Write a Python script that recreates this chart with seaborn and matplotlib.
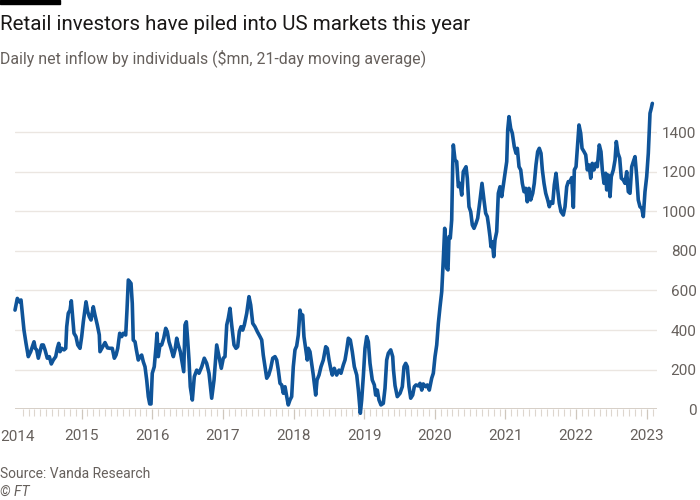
#%% IMPORTS
import numpy as np
import pandas as pd
import seaborn as sns
from matplotlib import pyplot as plt
from matplotlib.patches import Rectangle

#%% DATA (decimal year, $mn 21-day moving average)
year_pos = [
    2014.058, 2014.091, 2014.119, 2014.143, 2014.157, 2014.185, 2014.214, 2014.246, 2014.280, 2014.303,
    2014.327, 2014.345, 2014.365, 2014.388, 2014.412, 2014.436, 2014.459, 2014.483, 2014.515, 2014.544,
    2014.572, 2014.600, 2014.634, 2014.657, 2014.677, 2014.695, 2014.719, 2014.752, 2014.776, 2014.790,
    2014.812, 2014.837, 2014.855, 2014.875, 2014.893, 2014.921, 2014.946, 2014.978,
    2015.002, 2015.025, 2015.063, 2015.087, 2015.110, 2015.134, 2015.166, 2015.190, 2015.223, 2015.251,
    2015.261, 2015.299, 2015.332, 2015.367, 2015.403, 2015.435, 2015.464, 2015.488, 2015.512, 2015.540,
    2015.568, 2015.591, 2015.625, 2015.643, 2015.662, 2015.682, 2015.700, 2015.718, 2015.732, 2015.757,
    2015.776, 2015.803, 2015.827, 2015.851, 2015.874, 2015.898, 2015.922, 2015.945, 2015.965, 2015.983,
    2016.001, 2016.029, 2016.054, 2016.068, 2016.086, 2016.110, 2016.134, 2016.163, 2016.191, 2016.214,
    2016.238, 2016.266, 2016.299, 2016.323, 2016.347, 2016.369, 2016.398, 2016.418, 2016.446, 2016.464,
    2016.483, 2016.502, 2016.521, 2016.539, 2016.568, 2016.596, 2016.630, 2016.662, 2016.701, 2016.737,
    2016.771, 2016.804, 2016.842, 2016.875, 2016.913, 2016.946, 2016.978,
    2017.006, 2017.030, 2017.055, 2017.077, 2017.101, 2017.125, 2017.158, 2017.186, 2017.210, 2017.233,
    2017.257, 2017.281, 2017.304, 2017.338, 2017.370, 2017.394, 2017.423, 2017.455, 2017.488, 2017.526,
    2017.550, 2017.572, 2017.597, 2017.621, 2017.649, 2017.677, 2017.706, 2017.738, 2017.762, 2017.785,
    2017.809, 2017.833, 2017.856, 2017.880, 2017.904, 2017.926, 2017.950, 2017.974, 2017.997,
    2018.021, 2018.045, 2018.068, 2018.092, 2018.110, 2018.130, 2018.148, 2018.172, 2018.195, 2018.209,
    2018.233, 2018.257, 2018.280, 2018.314, 2018.333, 2018.361, 2018.389, 2018.422, 2018.456, 2018.478,
    2018.503, 2018.531, 2018.549, 2018.577, 2018.611, 2018.644, 2018.672, 2018.705, 2018.729, 2018.753,
    2018.776, 2018.804, 2018.832, 2018.861, 2018.895, 2018.918, 2018.946, 2018.965, 2018.988,
    2019.012, 2019.036, 2019.059, 2019.083, 2019.115, 2019.144, 2019.163, 2019.186, 2019.210, 2019.238,
    2019.271, 2019.295, 2019.319, 2019.342, 2019.376, 2019.404, 2019.415, 2019.437, 2019.469, 2019.508,
    2019.540, 2019.564, 2019.588, 2019.611, 2019.635, 2019.659, 2019.687, 2019.710, 2019.734, 2019.767,
    2019.791, 2019.815, 2019.837, 2019.871, 2019.894, 2019.922, 2019.956, 2019.979,
    2020.003, 2020.027, 2020.050, 2020.074, 2020.098, 2020.120, 2020.140, 2020.154, 2020.168, 2020.187,
    2020.201, 2020.219, 2020.239, 2020.253, 2020.262, 2020.286, 2020.310, 2020.333, 2020.357, 2020.381,
    2020.403, 2020.442, 2020.460, 2020.484, 2020.508, 2020.531, 2020.555, 2020.583, 2020.607, 2020.640,
    2020.668, 2020.696, 2020.720, 2020.743, 2020.760, 2020.781, 2020.795, 2020.814, 2020.834, 2020.852,
    2020.876, 2020.899, 2020.923, 2020.947, 2020.970, 2020.994,
    2021.018, 2021.032, 2021.050, 2021.074, 2021.097, 2021.125, 2021.149, 2021.168, 2021.192, 2021.216,
    2021.239, 2021.263, 2021.287, 2021.309, 2021.333, 2021.357, 2021.386, 2021.408, 2021.432, 2021.456,
    2021.479, 2021.503, 2021.522, 2021.546, 2021.570, 2021.598, 2021.621, 2021.645, 2021.669, 2021.691,
    2021.716, 2021.740, 2021.762, 2021.786, 2021.819, 2021.843, 2021.867, 2021.890, 2021.914, 2021.938,
    2021.961, 2021.975, 2021.999,
    2022.023, 2022.041, 2022.065, 2022.084, 2022.112, 2022.136, 2022.159, 2022.183, 2022.207, 2022.229,
    2022.253, 2022.278, 2022.300, 2022.328, 2022.352, 2022.371, 2022.395, 2022.419, 2022.433, 2022.456,
    2022.480, 2022.498, 2022.527, 2022.551, 2022.569, 2022.593, 2022.617, 2022.640, 2022.668, 2022.692,
    2022.716, 2022.739, 2022.763, 2022.787, 2022.810, 2022.834, 2022.858, 2022.880, 2022.904, 2022.929,
    2022.951, 2022.975, 2022.999,
    2023.022, 2023.046, 2023.064, 2023.079,
]
net_inflow = [
    501, 560, 543, 552, 501, 400, 333, 266, 291, 316,
    341, 308, 300, 258, 291, 325, 325, 300, 258, 266,
    229, 249, 266, 308, 333, 291, 308, 300, 308, 417,
    485, 501, 548, 460, 384, 367, 325, 308,
    367, 442, 543, 493, 468, 451, 518, 476, 426, 376,
    291, 316, 337, 310, 308, 308, 258, 274, 308, 384,
    367, 384, 375, 501, 653, 644, 636, 535, 350, 341,
    300, 249, 266, 274, 240, 215, 148, 64, 27, 27,
    182, 215, 316, 384, 266, 325, 325, 359, 409, 392,
    341, 308, 266, 300, 359, 325, 291, 249, 190, 426,
    442, 350, 249, 114, 47, 165, 198, 182, 215, 258,
    232, 182, 56, 148, 325, 266, 207,
    258, 266, 426, 460, 510, 426, 325, 308, 316, 392,
    417, 400, 426, 485, 569, 527, 434, 417, 392, 367,
    350, 274, 215, 157, 173, 207, 258, 266, 249, 198,
    131, 123, 81, 114, 64, 22, 47, 64, 215,
    300, 320, 375, 501, 468, 476, 367, 308, 249, 308,
    291, 232, 173, 72, 148, 173, 215, 249, 316, 308,
    249, 198, 173, 207, 173, 198, 182, 224, 249, 300,
    359, 350, 291, 215, 173, 97, -20, 47, 165,
    308, 367, 341, 232, 148, 123, 72, 97, 47, 22,
    30, 106, 249, 283, 300, 266, 200, 120, 64, 81,
    114, 215, 232, 215, 114, 56, 72, 114, 123, 118,
    131, 97, 128, 114, 123, 97, 157, 182,
    266, 325, 434, 518, 594, 754, 914, 838, 712, 704,
    872, 864, 956, 1225, 1335, 1259, 1251, 1124, 1141, 1082,
    1200, 1225, 1167, 1023, 998, 931, 914, 939, 965, 1057,
    1141, 1057, 990, 973, 931, 872, 821, 846, 771, 855,
    897, 1091, 1124, 1074, 1133, 1192,
    1251, 1411, 1478, 1419, 1394, 1326, 1293, 1318, 1225, 1209,
    1141, 1099, 1116, 1048, 1116, 1057, 1091, 1141, 1234, 1301,
    1318, 1293, 1209, 1141, 1091, 1057, 1023, 1048, 1040, 1133,
    1192, 1108, 1040, 998, 981, 1023, 1124, 1150, 1150, 1170,
    1020, 1209, 1225,
    1343, 1436, 1394, 1318, 1301, 1285, 1209, 1234, 1167, 1242,
    1209, 1242, 1225, 1335, 1301, 1209, 1141, 1192, 1108, 1183,
    1074, 1175, 1209, 1259, 1352, 1293, 1268, 1167, 1158, 1141,
    1200, 1099, 1091, 1225, 1251, 1276, 1175, 1057, 1023, 1015,
    973, 1099, 1175,
    1293, 1495, 1520, 1545,
]
year_ticks = [2015, 2016, 2017, 2018, 2019, 2020, 2021, 2022, 2023]
y_ticks = [0, 200, 400, 600, 800, 1000, 1200, 1400]

df = pd.DataFrame({"year": year_pos, "inflow": net_inflow})

#%% STYLE
LINE = "#0f5499"
GREY = "#66605c"
GRID = "#ebe6e1"
BASE = "#cfc7bd"

sns.set_theme(style="white")
plt.rcParams["font.family"] = ["Roboto", "DejaVu Sans"]

fig = plt.figure(figsize=(7, 5), dpi=100, facecolor="white")
# axes placed in pixels: x 15..657, y(0)=409, y(1560)=100
ax = fig.add_axes([15 / 700, 1 - 409.3 / 500, 642 / 700, 308.9 / 500])

sns.lineplot(data=df, x="year", y="inflow", ax=ax, color=LINE, linewidth=2.6,
             estimator=None, sort=False)
ax.lines[0].set_clip_on(False)
ax.lines[0].set_solid_joinstyle("round")

ax.set_xlim(2014.058, 2023.145)
ax.set_ylim(0, 1560)

for s in ax.spines.values():
    s.set_visible(False)

# horizontal grid and baseline
for v in y_ticks[1:]:
    ax.axhline(v, color=GRID, lw=1.0, zorder=0)
ax.axhline(0, color=BASE, lw=1.2, zorder=1)

# y labels on the right, right aligned
ax.yaxis.tick_right()
ax.set_yticks(y_ticks)
ax.set_yticklabels([str(v) for v in y_ticks])
ax.tick_params(axis="y", length=0, pad=28.5, labelsize=11, labelcolor=GREY)
plt.setp(ax.get_yticklabels(), ha="right")

# x: year labels with monthly minor ticks
ax.set_xticks(year_ticks)
ax.set_xticklabels([str(y) for y in year_ticks])
ax.set_xticks(np.arange(2014 + 2 / 12, 2023.15, 1 / 12), minor=True)
ax.tick_params(axis="x", which="major", bottom=True, length=7.5, width=0.9,
               color=BASE, pad=6.5, labelsize=11, labelcolor=GREY)
ax.tick_params(axis="x", which="minor", bottom=True, length=5, width=0.8,
               color="#ddd6ce")
fig.text(0, 1 - 437 / 500, "2014", ha="left", va="center", fontsize=11, color=GREY)

ax.set_xlabel("")
ax.set_ylabel("")

#%% TEXT
fig.patches.append(Rectangle((0, 1 - 4 / 500), 60 / 700, 4 / 500,
                             transform=fig.transFigure, color="black"))
fig.text(0, 1 - 25 / 500, "Retail investors have piled into US markets this year",
         ha="left", va="center", fontsize=14.8, color="#1a1817")
fig.text(0, 1 - 58 / 500, "Daily net inflow by individuals ($mn, 21-day moving average)",
         ha="left", va="center", fontsize=11.4, color=GREY)
fig.text(0, 1 - 474 / 500, "Source: Vanda Research", ha="left", va="center",
         fontsize=10, color=GREY)
fig.text(0, 1 - 492 / 500, "© FT", ha="left", va="center", fontsize=10,
         color=GREY, style="italic")

fig.savefig("out.png", dpi=100, facecolor="white")
